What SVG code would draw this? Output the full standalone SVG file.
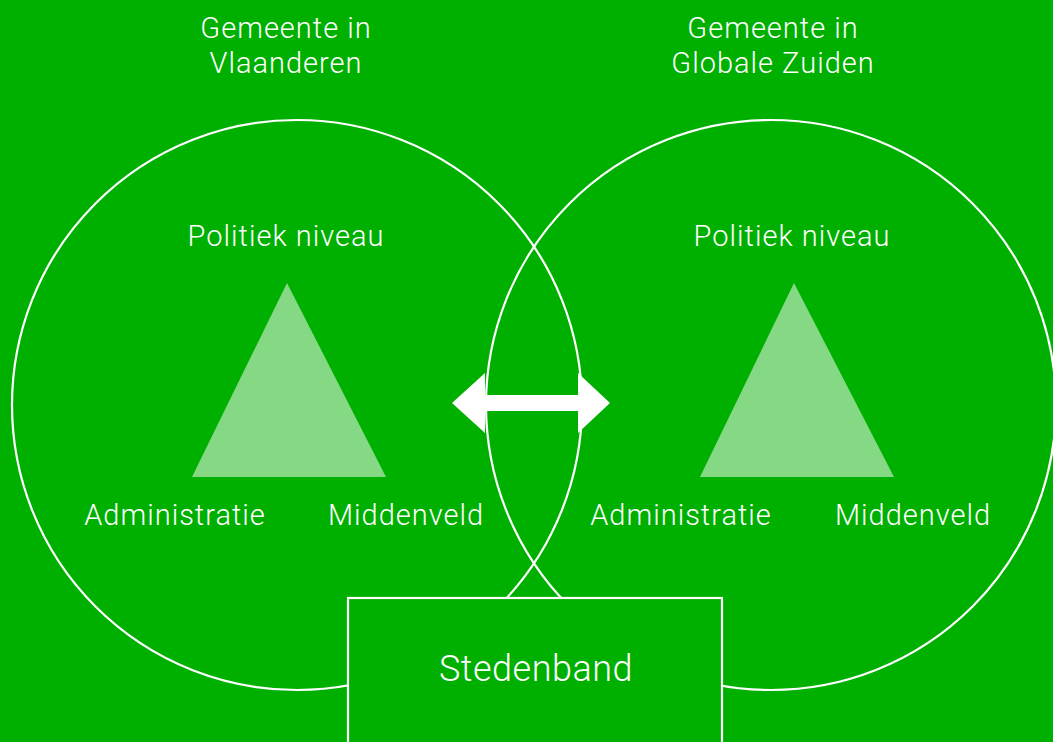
<svg xmlns="http://www.w3.org/2000/svg" width="1053" height="742" viewBox="0 0 1053 742">
<style>
.bg{fill:#00B000}
.ring{fill:none;stroke:#fff;stroke-width:2.2}
.tri{fill:#85D985}
.t{fill:#fff;font-family:Roboto,"Liberation Sans",sans-serif;font-weight:300;font-size:29px;letter-spacing:1px;text-anchor:middle}
.big{font-size:36px;letter-spacing:0.5px}
.box{fill:#00B000;stroke:#fff;stroke-width:2.2}
</style>
<rect class="bg" x="0" y="0" width="1053" height="742"/>
<g id="circle-vlaanderen">
<circle class="ring" cx="297" cy="405" r="285"/>
<text class="t" x="286" y="38">Gemeente in</text>
<text class="t" x="286" y="73">Vlaanderen</text>
<text class="t" x="286" y="246">Politiek niveau</text>
<polygon class="tri" points="287,283 192,477 386,477"/>
<text class="t" x="175" y="525">Administratie</text>
<text class="t" x="406" y="525">Middenveld</text>
</g>
<g id="circle-zuiden">
<circle class="ring" cx="771" cy="405" r="285"/>
<text class="t" x="773" y="38">Gemeente in</text>
<text class="t" x="773" y="73">Globale Zuiden</text>
<text class="t" x="792" y="246">Politiek niveau</text>
<polygon class="tri" points="794,283 700,477 894,477"/>
<text class="t" x="681" y="525">Administratie</text>
<text class="t" x="913" y="525">Middenveld</text>
</g>
<g id="connectors">
<polygon fill="#fff" points="452,403 485,373 485,395 578,395 578,373 610,403 578,433 578,411 485,411 485,433"/>
</g>
<g id="stedenband">
<rect class="box" x="348" y="598" width="374" height="160"/>
<text class="t big" x="536" y="681">Stedenband</text>
</g>
</svg>
